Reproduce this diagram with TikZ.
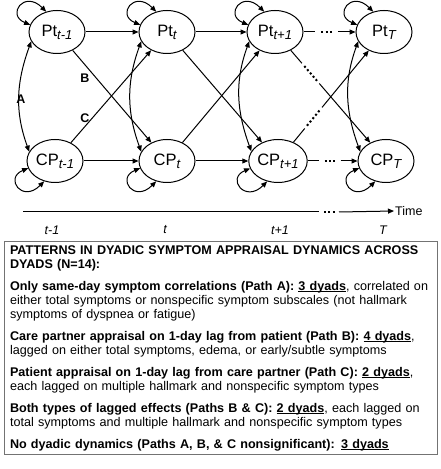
\documentclass[tikz,border=0pt]{standalone}
\usepackage{fontspec}
\setmainfont{Liberation Sans}
\usetikzlibrary{shapes.geometric,arrows.meta}
\newcommand{\lbl}[2]{#1\raisebox{-0.35ex}{\fontsize{13}{13}\selectfont\itshape #2}}
\newcommand{\uln}[1]{\setbox0\hbox{#1}\rlap{\rule[-2.2pt]{\wd0}{1pt}}\box0}
\begin{document}
\begin{tikzpicture}[x=1pt,y=1pt,
  st/.style={ellipse, draw, line width=1pt, minimum width=56pt, minimum height=43pt, inner sep=0pt, font=\fontsize{16.5}{18}\selectfont},
  arr/.style={-{Triangle[length=6pt,width=5pt]}, line width=1pt},
  darr/.style={{Triangle[length=6pt,width=5pt]}-{Triangle[length=6pt,width=5pt]}, line width=1pt},
  plain/.style={line width=1pt},
  dotseg/.style={line width=2pt, dash pattern=on 2pt off 2.4pt},
  pathlbl/.style={font=\fontsize{12.5}{13}\selectfont\bfseries},
  ticklbl/.style={font=\fontsize{12.5}{13}\selectfont\itshape},
]
\useasboundingbox (0,0) rectangle (440,469);
% nodes
\node[st] (p1) at (57,437) {\lbl{Pt}{t-1}};
\node[st] (p2) at (167,437) {\lbl{Pt}{t}};
\node[st] (p3) at (275,437) {\lbl{Pt}{t+1}};
\node[st] (p4) at (384,437) {\lbl{Pt}{T}};
\node[st] (c1) at (55,308) {\lbl{CP}{t-1}};
\node[st] (c2) at (167,308) {\lbl{CP}{t}};
\node[st] (c3) at (278,308) {\lbl{CP}{t+1}};
\node[st] (c4) at (386,308) {\lbl{CP}{T}};
% self loops
\foreach \n in {p1,p2,p3,p4}
  \draw[darr] (\n.165) .. controls +(-24,10) and +(-22,22) .. (\n.118);
\foreach \n in {c1,c2,c3,c4}
  \draw[darr] (\n.195) .. controls +(-24,-10) and +(-22,-22) .. (\n.242);
% same-day correlations
\foreach \i in {1,2,3,4}
  \draw[darr] (p\i.200) to[out=250,in=110] (c\i.160);
% lagged horizontal
\draw[arr] (p1) -- (p2);
\draw[arr] (p2) -- (p3);
\draw[arr] (c1) -- (c2);
\draw[arr] (c2) -- (c3);
% cross-lagged
\draw[arr] (p1) -- (c2);
\draw[arr] (c1) -- (p2);
\draw[arr] (p2) -- (c3);
\draw[arr] (c2) -- (p3);
% dotted continuations
\path (p3.east) -- (p4.west) coordinate[pos=0.23] (ph1) coordinate[pos=0.34] (ph2)
      coordinate[pos=0.56] (ph3) coordinate[pos=0.66] (ph4);
\draw[plain] (p3.east) -- (ph1);
\draw[dotseg] (ph2) -- (ph3);
\draw[arr] (ph4) -- (p4.west);
\path (c3.east) -- (c4.west) coordinate[pos=0.23] (ch1) coordinate[pos=0.34] (ch2)
      coordinate[pos=0.56] (ch3) coordinate[pos=0.66] (ch4);
\draw[plain] (c3.east) -- (ch1);
\draw[dotseg] (ch2) -- (ch3);
\draw[arr] (ch4) -- (c4.west);
\path (p3) -- (c4) coordinate[pos=0.14] (pd1) coordinate[pos=0.17] (pd2)
      coordinate[pos=0.33] (pd3) coordinate[pos=0.36] (pd4);
\draw[plain] (p3) -- (pd1);
\draw[dotseg] (pd2) -- (pd3);
\draw[arr] (pd4) -- (c4);
\path (c3) -- (p4) coordinate[pos=0.15] (cd1) coordinate[pos=0.18] (cd2)
      coordinate[pos=0.35] (cd3) coordinate[pos=0.38] (cd4);
\draw[plain] (c3) -- (cd1);
\draw[dotseg] (cd2) -- (cd3);
\draw[arr] (cd4) -- (p4);
% path labels
\node[pathlbl] (la) at (21,370) {A};
\node[pathlbl] (lb) at (85,391) {B};
\node[pathlbl] (lc) at (85,351) {C};
% time axis
\coordinate (ax0) at (23,257);
\coordinate (ax1) at (319,257);
\coordinate (ax2) at (324,257);
\coordinate (ax3) at (335.2,257);
\coordinate (ax4) at (339,257);
\node[anchor=west, font=\fontsize{12.5}{13}\selectfont, inner sep=1pt] (time) at (394,258) {Time};
\draw[plain] (ax0) -- (ax1);
\draw[dotseg] (ax2) -- (ax3);
\draw[arr] (ax4) -- (time.west);
\node[ticklbl] (t1) at (52,239) {t-1};
\node[ticklbl] (t2) at (165,239) {t};
\node[ticklbl] (t3) at (280,239) {t+1};
\node[ticklbl] (t4) at (383,239) {T};
% text box
\node[draw=black!55, line width=1pt, anchor=north west, align=left,
      inner xsep=5.5pt, inner ysep=4pt, text width=422pt,
      font=\fontsize{12.6}{13.9}\selectfont] (box) at (4,228) {%
\textbf{PATTERNS IN DYADIC SYMPTOM APPRAISAL DYNAMICS ACROSS}\\
\textbf{DYADS (N=14):}\\[8.2pt]
\textbf{Only same-day symptom correlations (Path A): \uln{3 dyads}}, correlated on\\
either total symptoms or nonspecific symptom subscales (not hallmark\\
symptoms of dyspnea or fatigue)\\[8.2pt]
\textbf{Care partner appraisal on 1-day lag from patient (Path B): \uln{4 dyads}},\\
lagged on either total symptoms, edema, or early/subtle symptoms\\[8.2pt]
\textbf{Patient appraisal on 1-day lag from care partner (Path C): \uln{2 dyads}},\\
each lagged on multiple hallmark and nonspecific symptom types\\[8.2pt]
\textbf{Both types of lagged effects (Paths B \& C): \uln{2 dyads}}, each lagged on\\
total symptoms and multiple hallmark and nonspecific symptom types\\[8.2pt]
\textbf{No dyadic dynamics (Paths A, B, \& C nonsignificant): \uln{3 dyads}}};
\end{tikzpicture}
\end{document}
